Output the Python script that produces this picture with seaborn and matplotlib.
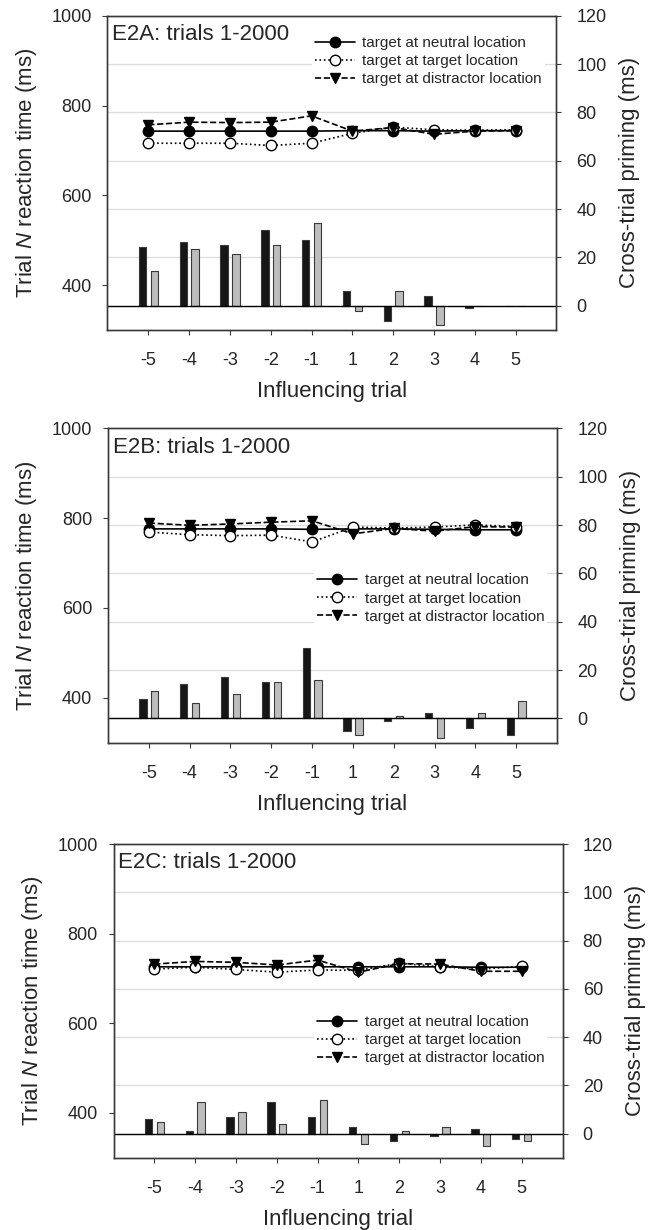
import matplotlib
matplotlib.use("Agg")
import matplotlib.pyplot as plt
import seaborn as sns
import pandas as pd
import numpy as np

# influencing trial labels (x axis)
trial_labels = ["-5", "-4", "-3", "-2", "-1", "1", "2", "3", "4", "5"]
panel_titles = ["E2A: trials 1-2000", "E2B: trials 1-2000", "E2C: trials 1-2000"]
line_labels = ["target at neutral location", "target at target location",
               "target at distractor location"]

# trial N reaction time (ms), left axis
rt_neutral_a = [743, 743, 743, 743, 743, 744, 744, 743, 744, 744]
rt_target_a = [716, 716, 716, 711, 716, 738, 752, 746, 745, 746]
rt_distractor_a = [757, 763, 762, 763, 777, 743, 751, 736, 743, 744]

rt_neutral_b = [776, 776, 776, 776, 775, 776, 776, 775, 774, 774]
rt_target_b = [769, 763, 761, 762, 747, 780, 778, 780, 785, 781]
rt_distractor_b = [789, 784, 787, 791, 794, 765, 777, 771, 781, 780]

rt_neutral_c = [726, 726, 726, 726, 726, 726, 726, 726, 725, 725]
rt_target_c = [721, 725, 720, 714, 719, 718, 734, 726, 721, 727]
rt_distractor_c = [732, 738, 736, 730, 741, 714, 733, 732, 716, 716]

# cross-trial priming (ms), right axis: black bars and grey bars
prime_black_a = [24.2, 26.3, 25.3, 31.5, 27.4, 6.2, -6.2, 4.1, -1.1, 0]
prime_grey_a = [14.3, 23.4, 21.3, 25.3, 34.4, -2.1, 6.2, -8.1, 0, 0]

prime_black_b = [8.0, 14.1, 17.1, 15.2, 29.1, -5.0, -1.0, 2.2, -3.9, -6.9]
prime_grey_b = [11.2, 6.2, 10.2, 15.2, 16.1, -6.9, 1.2, -7.9, 2.2, 7.2]

prime_black_c = [6.0, 1.0, 6.9, 12.9, 6.9, 2.9, -3.2, -1.1, 1.9, -2.2]
prime_grey_c = [4.8, 12.9, 8.9, 3.9, 13.9, -4.2, 1.0, 2.9, -5.3, -3.2]

sns.set_style("ticks")
plt.rcParams["font.family"] = ["Liberation Sans", "DejaVu Sans"]
plt.rcParams["mathtext.fontset"] = "custom"
plt.rcParams["mathtext.rm"] = "Liberation Sans"
plt.rcParams["mathtext.it"] = "Liberation Sans:italic"

SPINE = "#3a3a3a"
fig = plt.figure(figsize=(6.57, 12.30), dpi=100)


def draw_panel(rect, title, neutral, target, distractor, black, grey, leg_anchor):
    ax = fig.add_axes(rect)
    ax2 = ax.twinx()
    xpos = np.arange(len(trial_labels))

    # priming bars on the right axis
    df = pd.DataFrame({
        "pos": np.concatenate([xpos, xpos]),
        "priming": black + grey,
        "kind": ["black"] * len(black) + ["grey"] * len(grey),
    })
    sns.barplot(data=df, x="pos", y="priming", hue="kind", native_scale=True,
                palette={"black": "#161616", "grey": "#bdbdbd"},
                width=0.58, gap=0.38, errorbar=None, legend=False,
                edgecolor="#3a3a3a", linewidth=0.8, ax=ax2)
    ax2.axhline(0, color="black", lw=1.0)
    ax2.set_ylim(-10, 120)
    ax2.set_yticks(range(0, 121, 20))
    ax2.set_axisbelow(True)
    ax2.yaxis.grid(True, color="#dcdcdc", lw=0.9)
    ax2.set_ylabel("Cross-trial priming (ms)", fontsize=16, labelpad=9)
    ax2.tick_params(axis="y", labelsize=13, length=3.5, pad=11, color=SPINE)

    # reaction time lines on the left axis
    styles = [
        dict(y=neutral, marker="o", linestyle="-", markerfacecolor="black"),
        dict(y=target, marker="o", linestyle=":", markerfacecolor="white"),
        dict(y=distractor, marker="v", linestyle="--", markerfacecolor="black"),
    ]
    for st, lab in zip(styles, line_labels):
        sns.lineplot(x=xpos, y=st["y"], ax=ax, color="black", marker=st["marker"],
                     linestyle=st["linestyle"], markerfacecolor=st["markerfacecolor"],
                     markeredgecolor="black", markeredgewidth=1.0, markersize=7.5,
                     linewidth=1.2, label=lab)
    ax.set_ylim(300, 1000)
    ax.set_yticks([400, 600, 800, 1000])
    ax.set_xlim(-1, len(trial_labels))
    ax.set_xticks(xpos)
    ax.set_xticklabels(trial_labels)
    ax.tick_params(axis="y", labelsize=13, length=3.5, pad=8, color=SPINE)
    ax.tick_params(axis="x", labelsize=13, length=3.5, pad=12.5, color=SPINE)
    ax.set_ylabel(r"Trial $\mathit{N}$ reaction time (ms)", fontsize=16, labelpad=9)
    ax.set_xlabel("Influencing trial", fontsize=16, labelpad=8.5)
    ax.set_zorder(ax2.get_zorder() + 1)
    ax.patch.set_visible(False)
    for a in (ax, ax2):
        for sp in a.spines.values():
            sp.set_color(SPINE)
            sp.set_linewidth(1.0)

    handles, labels = ax.get_legend_handles_labels()
    ax.legend(handles, labels, loc="upper left", bbox_to_anchor=leg_anchor,
              fontsize=11, frameon=True, facecolor="white", edgecolor="none",
              framealpha=1, handlelength=2.6, handletextpad=0.5,
              labelspacing=0.27, borderpad=0.2, borderaxespad=0)

    ax.text(0.01, 0.94, title, transform=ax.transAxes, fontsize=16, va="center")


draw_panel([0.1636, 0.7317, 0.6834, 0.2555], panel_titles[0],
           rt_neutral_a, rt_target_a, rt_distractor_a,
           prime_black_a, prime_grey_a, (0.455, 0.945))
draw_panel([0.1644, 0.3962, 0.6834, 0.2556], panel_titles[1],
           rt_neutral_b, rt_target_b, rt_distractor_b,
           prime_black_b, prime_grey_b, (0.459, 0.548))
draw_panel([0.1728, 0.0588, 0.6834, 0.2550], panel_titles[2],
           rt_neutral_c, rt_target_c, rt_distractor_c,
           prime_black_c, prime_grey_c, (0.447, 0.464))

fig.savefig("out.png", dpi=100)
